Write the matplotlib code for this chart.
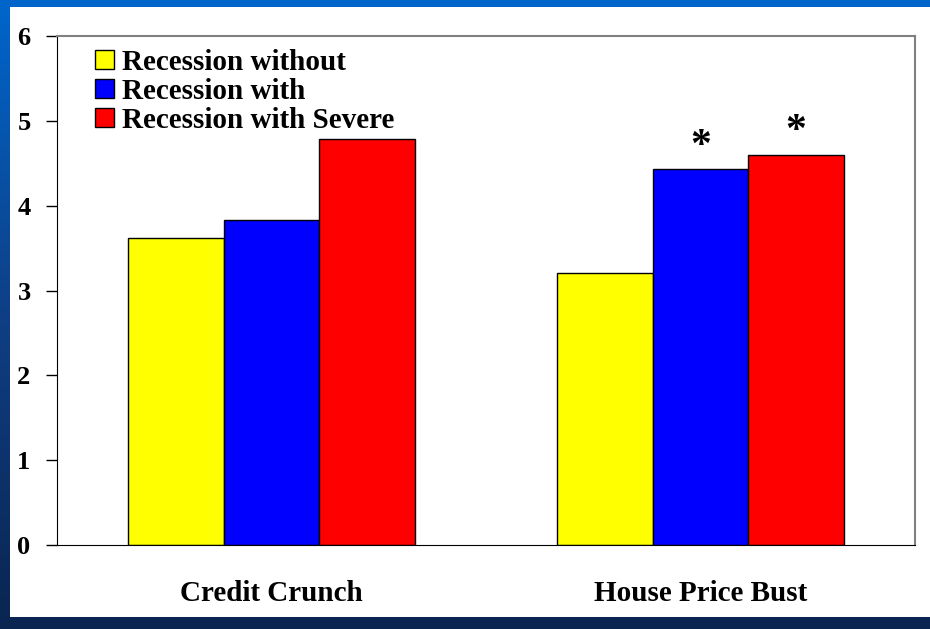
import numpy as np
import matplotlib.pyplot as plt
from matplotlib.colors import LinearSegmentedColormap
from matplotlib.patches import Rectangle

# data
categories = ['Credit Crunch', 'House Price Bust']
series = ['Recession without', 'Recession with', 'Recession with Severe']
without_vals = [3.62, 3.21]
with_vals = [3.83, 4.43]
severe_vals = [4.78, 4.60]
colors = ['#FFFF00', '#0000FF', '#FF0000']
# significance markers: (category index, series index)
stars = [(1, 1), (1, 2)]

plt.rcParams['font.family'] = ['Liberation Serif', 'DejaVu Serif']
plt.rcParams['font.weight'] = 'bold'

fig = plt.figure(figsize=(9.3, 6.29), dpi=100)

# slide background: blue gradient with white panel
bg = fig.add_axes([0, 0, 1, 1], zorder=-2)
cmap = LinearSegmentedColormap.from_list('slide', ['#0A2550', '#0F3F85', '#0066CC'])
grad = np.linspace(0, 1, 256).reshape(-1, 1)
bg.imshow(grad, aspect='auto', cmap=cmap, origin='lower', extent=[0, 1, 0, 1])
bg.add_patch(Rectangle((10 / 930, 12 / 629), 1 - 10 / 930, 1 - 19 / 629,
                       facecolor='white', edgecolor='none'))
bg.set_xlim(0, 1)
bg.set_ylim(0, 1)
bg.axis('off')

ax = fig.add_axes([57 / 930, 84 / 629, 858 / 930, 509 / 629])
x = np.arange(len(categories))
w = 0.223
all_vals = [without_vals, with_vals, severe_vals]
for i, (name, vals) in enumerate(zip(series, all_vals)):
    ax.bar(x + (i - 1) * w, vals, w, color=colors[i], edgecolor='black',
           linewidth=1, label=name, zorder=2)

for ci, si in stars:
    ax.text(x[ci] + (si - 1) * w, all_vals[si][ci] + 0.04, '*', ha='center',
            va='bottom', fontsize=30, fontweight='bold')

ax.set_xlim(-0.5, 1.5)
ax.set_ylim(0, 6)
ax.set_yticks(range(7))
ax.set_xticks(x)
ax.set_xticklabels(categories, fontsize=21, fontweight='bold')
ax.tick_params(axis='x', length=0, pad=25)
ax.tick_params(axis='y', length=8, width=1, pad=11, labelsize=19, direction='out')
for lab in ax.get_yticklabels():
    lab.set_fontweight('bold')

for side in ['top', 'right']:
    ax.spines[side].set_color('#808080')
    ax.spines[side].set_linewidth(1.5)
ax.spines['left'].set_color('black')
ax.spines['bottom'].set_color('black')

leg = ax.legend(loc='upper left', bbox_to_anchor=(0.044, 0.975), frameon=False,
                prop={'family': 'Liberation Serif', 'weight': 'bold', 'size': 21},
                handlelength=0.65, handleheight=0.65, handletextpad=0.3,
                labelspacing=0.07, borderpad=0.0, borderaxespad=0.0)

fig.savefig('out.png', dpi=100)
